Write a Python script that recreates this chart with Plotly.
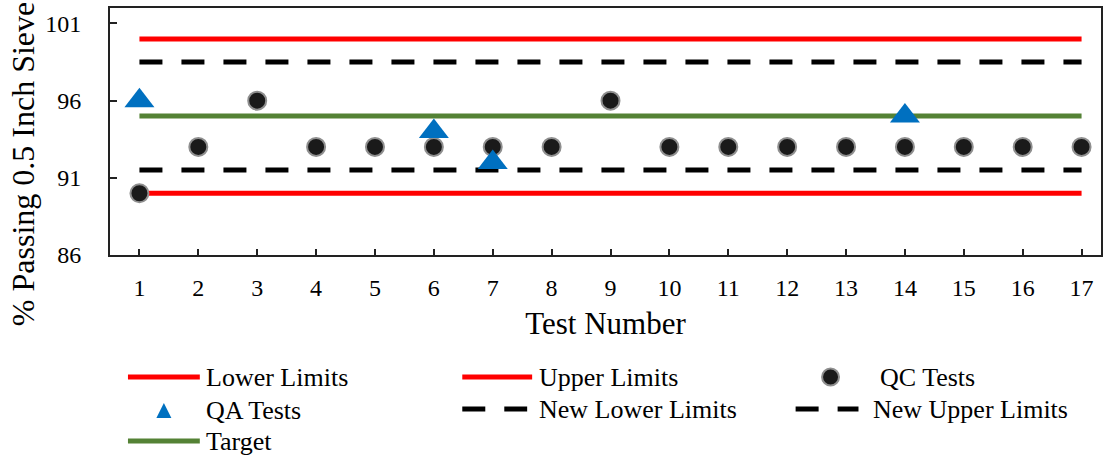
import plotly.graph_objects as go

# ---------------- data ----------------
test_number = [1, 2, 3, 4, 5, 6, 7, 8, 9, 10, 11, 12, 13, 14, 15, 16, 17]
qc_tests = [90, 93, 96, 93, 93, 93, 93, 93, 96, 93, 93, 93, 93, 93, 93, 93, 93]
qa_test_number = [1, 6, 7, 14]
qa_tests = [96, 94, 92, 95]
lower_limits = [90, 90, 90, 90, 90, 90, 90, 90, 90, 90, 90, 90, 90, 90, 90, 90, 90]
upper_limits = [100, 100, 100, 100, 100, 100, 100, 100, 100, 100, 100, 100, 100, 100, 100, 100, 100]
new_lower_limits = [91.5, 91.5, 91.5, 91.5, 91.5, 91.5, 91.5, 91.5, 91.5, 91.5, 91.5, 91.5, 91.5, 91.5, 91.5, 91.5, 91.5]
new_upper_limits = [98.5, 98.5, 98.5, 98.5, 98.5, 98.5, 98.5, 98.5, 98.5, 98.5, 98.5, 98.5, 98.5, 98.5, 98.5, 98.5, 98.5]
target = [95, 95, 95, 95, 95, 95, 95, 95, 95, 95, 95, 95, 95, 95, 95, 95, 95]
y_ticks = [86, 91, 96, 101]
legend_labels = ["Lower Limits", "Upper Limits", "QC Tests", "QA Tests",
                 "New Lower Limits", "New Upper Limits", "Target"]

# ---------------- styles ----------------
RED = "#FF0000"
GREEN = "#548235"
BLUE = "#0070C0"
DOT = "#1a1a1a"
DOT_EDGE = "#8f8f8f"
FONT = "Liberation Serif"
DASH = "23px,19px"

W, H = 1106, 459
ML, MR, MT, MB = 110, 3, 8, 204


def px(x):
    return (x - ML) / (W - ML - MR)


def py(y):
    return (H - MB - y) / (H - MT - MB)


fig = go.Figure()

line_specs = [
    (lower_limits, RED, "solid", legend_labels[0]),
    (upper_limits, RED, "solid", legend_labels[1]),
    (new_lower_limits, "black", DASH, legend_labels[4]),
    (new_upper_limits, "black", DASH, legend_labels[5]),
    (target, GREEN, "solid", legend_labels[6]),
]
for vals, col, dash, name in line_specs:
    fig.add_trace(go.Scatter(x=test_number, y=vals, mode="lines", name=name,
                             line=dict(color=col, width=5, dash=dash),
                             showlegend=False, hoverinfo="skip"))

fig.add_trace(go.Scatter(x=test_number, y=qc_tests, mode="markers", name=legend_labels[2],
                         marker=dict(symbol="circle", size=18, color=DOT,
                                     line=dict(color=DOT_EDGE, width=2)),
                         showlegend=False))
fig.add_trace(go.Scatter(x=qa_test_number, y=qa_tests, mode="markers", name=legend_labels[3],
                         marker=dict(symbol="triangle-up", size=26, color=BLUE,
                                     line=dict(width=0)),
                         showlegend=False))

# ---------------- custom legend ----------------
shapes = []
annotations = []
TEXT_SIZE = 26


def add_line_item(x0, x1, y, color, dash, label, tx):
    shapes.append(dict(type="line", xref="paper", yref="paper",
                       x0=px(x0), x1=px(x1), y0=py(y), y1=py(y),
                       line=dict(color=color, width=5, dash=dash)))
    annotations.append(dict(text=label, xref="paper", yref="paper", x=px(tx), y=py(y),
                            xanchor="left", yanchor="middle", showarrow=False,
                            font=dict(family=FONT, size=TEXT_SIZE, color="black")))


add_line_item(128, 200, 377, RED, "solid", legend_labels[0], 204)
add_line_item(463, 533, 377, RED, "solid", legend_labels[1], 538)
add_line_item(463, 528, 409, "black", "23px,19px", legend_labels[4], 538)
add_line_item(797, 860, 409, "black", "23px,19px", legend_labels[5], 873)
add_line_item(128, 200, 441, GREEN, "solid", legend_labels[6], 204)

# QC circle
r = 8.5
shapes.append(dict(type="circle", xref="paper", yref="paper",
                   x0=px(832 - r), x1=px(832 + r), y0=py(377 + r), y1=py(377 - r),
                   fillcolor=DOT, line=dict(color=DOT_EDGE, width=2)))
annotations.append(dict(text=legend_labels[2], xref="paper", yref="paper", x=px(880), y=py(377),
                        xanchor="left", yanchor="middle", showarrow=False,
                        font=dict(family=FONT, size=TEXT_SIZE, color="black")))
# QA triangle
cx, cy = 164, 410.5
tri = "M {} {} L {} {} L {} {} Z".format(px(cx - 7.5), py(cy + 7.5), px(cx + 7.5), py(cy + 7.5),
                                         px(cx), py(cy - 7.5))
shapes.append(dict(type="path", xref="paper", yref="paper", path=tri,
                   fillcolor=BLUE, line=dict(width=0)))
annotations.append(dict(text=legend_labels[3], xref="paper", yref="paper", x=px(204), y=py(410),
                        xanchor="left", yanchor="middle", showarrow=False,
                        font=dict(family=FONT, size=TEXT_SIZE, color="black")))

# y-axis title (offset like the original)
annotations.append(dict(text="% Passing 0.5 Inch Sieve", xref="paper", yref="paper",
                        x=px(23), y=py(164), xanchor="center", yanchor="middle",
                        textangle=-90, showarrow=False,
                        font=dict(family=FONT, size=32, color="black")))

fig.update_layout(
    width=W, height=H,
    margin=dict(l=ML, r=MR, t=MT, b=MB, pad=0),
    paper_bgcolor="white", plot_bgcolor="white",
    font=dict(family=FONT, color="black"),
    showlegend=False,
    shapes=shapes,
    annotations=annotations,
)
fig.update_xaxes(range=[0.5, 17.33], tickvals=test_number, ticks="inside", ticklen=6,
                 tickwidth=1.5, tickcolor="#222", showline=True, linecolor="#222",
                 linewidth=2, mirror=True, showgrid=False, zeroline=False,
                 tickfont=dict(family=FONT, size=24, color="black"),
                 ticklabelstandoff=10,
                 title=dict(text="Test Number", font=dict(family=FONT, size=31, color="black"),
                            standoff=13))
fig.update_yaxes(range=[86, 102], tickvals=y_ticks, ticks="inside", ticklen=7,
                 tickwidth=1.5, tickcolor="#222", showline=True, linecolor="#222",
                 linewidth=2, mirror=True, showgrid=False, zeroline=False,
                 tickfont=dict(family=FONT, size=24, color="black"),
                 ticklabelstandoff=22)

fig.write_html("out.html", config={"displayModeBar": False})
